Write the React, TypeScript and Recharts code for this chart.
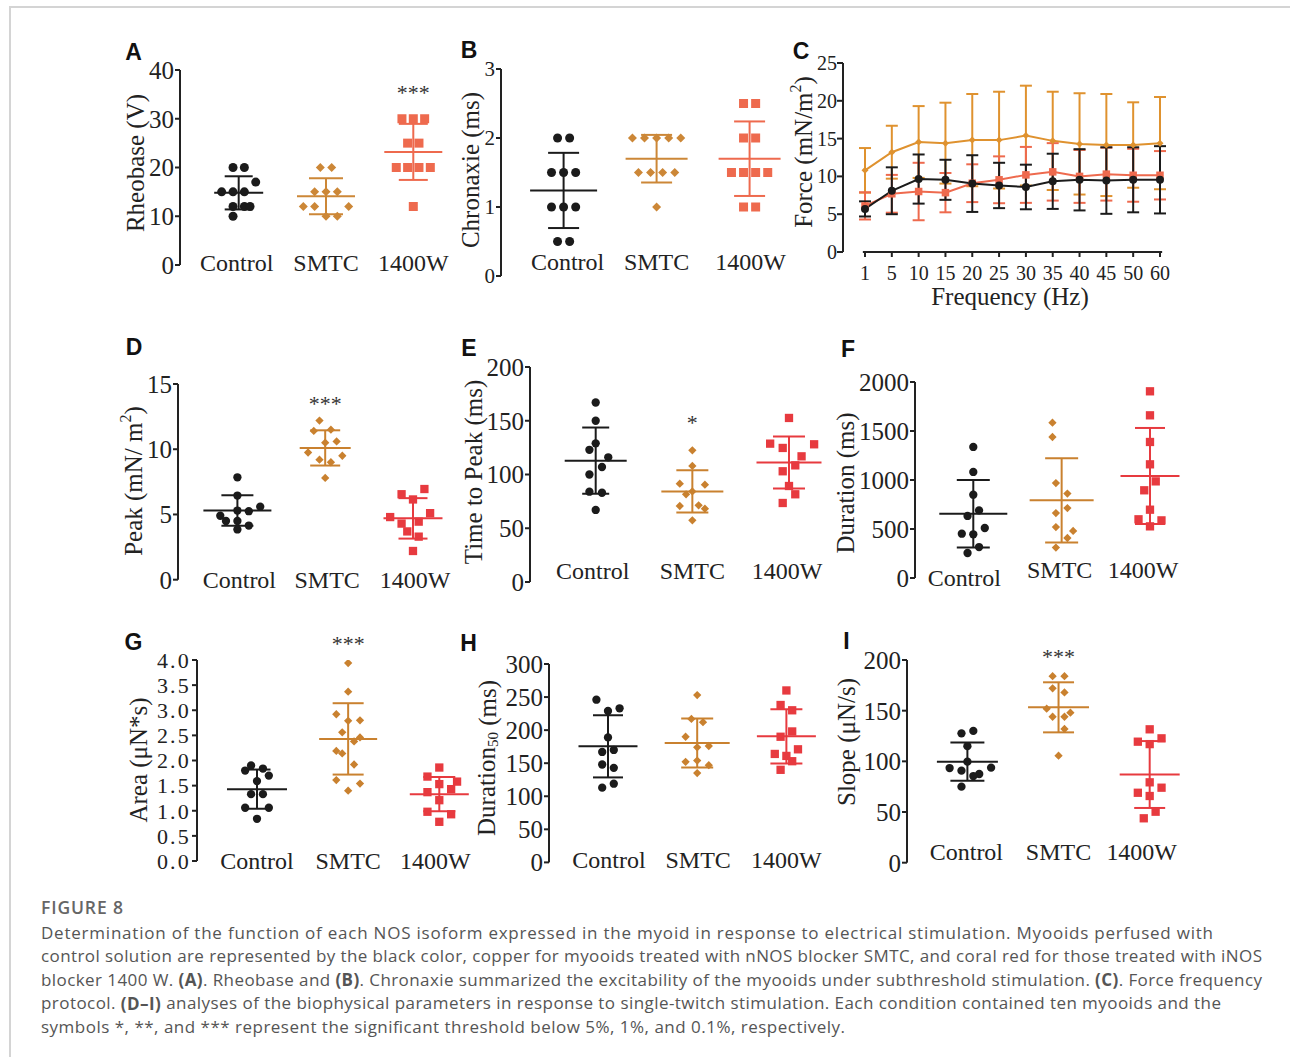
import React from 'react';
import {
  ScatterChart,
  Scatter,
  LineChart,
  Line,
  XAxis,
  YAxis,
  ErrorBar,
  ReferenceDot,
  ReferenceLine,
} from 'recharts';

const SERIF = '"Liberation Serif", "Times New Roman", serif';
const SANS = '"Liberation Sans", Arial, sans-serif';
const CAPTION = '"Open Sans", sans-serif';
const INK = '#222';
const BLACK = '#1b1b1b';
const COPPER = '#cc8737';
const CORAL = '#ee6a4e';
const RED = '#e73a3f';

const GROUPS = ['Control', 'SMTC', '1400W'];
// horizontal spread of the dots, in "slots" of this many category widths
const JITTER = 0.065;

// A: Rheobase (V)
const rheobaseValues = [
  [20, 20, 17, 15, 15, 15, 12, 12, 12, 10],
  [20, 20, 15, 15, 15, 12, 12, 12, 10, 10],
  [30, 30, 30, 25, 25, 20, 20, 20, 20, 12],
];
const rheobaseJitter = [
  [-1, 1, 3, -3, -1, 1, -1, 1, 2, -1],
  [-1, 1, -2, 0, 2, -4, -2, 4, 0, 2],
  [-2, 0, 2, -1, 1, -3, -1, 1, 3, 0],
];
const rheobaseMean = [14.8, 14.1, 23.2];
const rheobaseSd = [3.4, 3.7, 5.75];

// B: Chronaxie (ms)
const chronaxieValues = [
  [2, 2, 1.5, 1.5, 1.5, 1, 1, 1, 0.5, 0.5],
  [2, 2, 2, 2, 2, 1.5, 1.5, 1.5, 1.5, 1],
  [2.5, 2.5, 2, 2, 1.5, 1.5, 1.5, 1.5, 1, 1],
];
const chronaxieJitter = [
  [-1, 1, -2, 0, 2, -2, 0, 2, -1, 1],
  [-4, -2, 0, 2, 4, -3, -1, 1, 3, 0],
  [-1, 1, -1, 1, -3, -1, 1, 3, -1, 1],
];
const chronaxieMean = [1.24, 1.7, 1.7];
const chronaxieSd = [0.545, 0.345, 0.54];

// C: Force frequency
const freqLabels = ['1', '5', '10', '15', '20', '25', '30', '35', '40', '45', '50', '60'];
const forceControl = [5.7, 8.1, 9.65, 9.55, 9.05, 8.8, 8.6, 9.35, 9.55, 9.45, 9.55, 9.55];
const forceControlSd = [1.0, 3.1, 3.25, 2.65, 3.75, 3.0, 2.95, 3.65, 4.05, 4.4, 4.3, 4.45];
const forceSmtc = [10.8, 13.2, 14.55, 14.4, 14.8, 14.8, 15.4, 14.7, 14.3, 14.15, 14.15, 14.4];
const forceSmtcSd = [2.95, 3.5, 4.75, 5.35, 6.1, 6.4, 6.6, 6.5, 6.7, 6.75, 5.65, 6.1];
const force1400W = [6.1, 7.7, 8.0, 7.85, 9.1, 9.55, 10.2, 10.6, 10.0, 10.3, 10.15, 10.15];
const force1400WSd = [1.8, 2.5, 3.8, 2.6, 2.5, 3.1, 3.7, 3.8, 3.5, 3.5, 3.5, 3.2];

// D: Peak (mN/m2)
const peakValues = [
  [7.85, 6.45, 5.6, 5.25, 4.9, 4.5, 4.5, 3.85, 4.15, 5.3],
  [12.2, 11.4, 11.5, 10.5, 10.6, 9.75, 9.5, 9.2, 9.0, 7.8],
  [6.55, 6.95, 6.15, 4.8, 5.1, 4.3, 4.45, 3.7, 3.3, 2.2],
];
const peakJitter = [
  [0, 0, 4, 2, -3, -2, 0, 0, 2, 0],
  [-1, -2, 1, 0, 2, -3, 3, -1, 1, 0],
  [-2, 2, 0, -4, 3, -2, 1, -1, 1, 0],
];
const peakMean = [5.3, 10.1, 4.7];
const peakSd = [1.17, 1.35, 1.55];

// E: Time to peak (ms)
const ttpValues = [
  [167, 150, 129, 123, 116, 107, 100, 84, 83, 67],
  [122.5, 108, 91.5, 90.5, 84.3, 81.6, 70.7, 71.3, 68.2, 57.4],
  [152.6, 128.7, 124.7, 128.1, 116.9, 108.5, 103, 89.3, 81.6, 73.5],
];
const ttpJitter = [
  [0, 0, 0, -1, 2, 1, -1, -1, 1, 0],
  [0, 0, -2, 2, 0, -1, -2, 1, 2, 0],
  [0, -3, -1, 4, 2, 1, -1, 0, 1, -1],
];
const ttpMean = [112.9, 84.3, 111.1];
const ttpSd = [30.8, 19.6, 24.2];

// F: Duration (ms)
const durationValues = [
  [1337, 1082, 850, 633, 690, 510, 452, 446, 316, 255],
  [1585, 1439, 969, 861, 663, 714, 520, 480, 408, 310],
  [1905, 1660, 1388, 1160, 986, 895, 697, 599, 588, 527],
];
const durationJitter = [
  [0, 0, 0, -1, 1, 2, -2, 0, 1, -1],
  [-1.6, -1.6, -1, 1, -1, 1, -1, 2, 1, -1],
  [0, 0, 0, 0, 1, -1, 0, -2, 2, 0],
];
const durationMean = [656, 793, 1041];
const durationSd = [345, 430, 490];

// G: Area (uN*s)
const areaValues = [
  [1.9, 1.84, 1.8, 1.7, 1.59, 1.33, 1.33, 1.06, 1.06, 0.84],
  [3.94, 3.37, 2.92, 2.8, 2.79, 2.56, 2.46, 2.38, 2.19, 2.14, 1.92, 1.61, 1.54, 1.4],
  [1.86, 1.68, 1.58, 1.53, 1.43, 1.37, 1.21, 0.98, 0.93, 0.78],
];
const areaJitter = [
  [-1, 1, -2, 2, 0, -1, 1, -2, 2, 0],
  [0, 0, -2, 2, 0, -1, 2, 1, -2, -1, 1, -2, 2, 0],
  [0, -2, 3, 0, 2, -2, 0, -2, 2, 0],
];
const areaMean = [1.43, 2.43, 1.33];
const areaSd = [0.39, 0.71, 0.34];

// H: Duration50 (ms)
const dur50Values = [
  [246, 229, 233, 189, 167, 170, 148, 143, 119, 113],
  [253, 217, 212, 190, 174, 176, 152, 154, 147, 135],
  [260, 238, 230, 198, 190, 171, 164, 161, 153, 140],
];
const dur50Jitter = [
  [-2, 0, 2, 0, -1, 1, -1, 1, 1, -1],
  [0, -1, 1, -2, 0, 2, -2, 0, 2, 0],
  [0, -1, 1, 1, -1, 2, -2, 0, 1, -1],
];
const dur50Mean = [175.5, 180.5, 190.6];
const dur50Sd = [47, 37, 41];

// I: Slope (uN/s)
const slopeValues = [
  [127.6, 130, 115, 93.4, 90.8, 99.7, 87.5, 85.5, 93.8, 75],
  [184, 184, 172, 168, 152, 148, 144, 144, 132, 105.6],
  [131.6, 119.4, 122.7, 117, 79.3, 69, 74, 65.8, 50.3, 43.8],
];
const slopeJitter = [
  [-1, 1, 0, -3, -1, 0, 2, 1, 4, -1],
  [-1, 1, -1, 1, -2, 2, -1, 1, 1, 0],
  [0, -2, 2, 0, 0, -2, 2, 0, 1, -1],
];
const slopeMean = [99.7, 153.3, 87];
const slopeSd = [18.8, 24.7, 33];

type Shape = 'circle' | 'diamond' | 'square';
const SHAPES: Shape[] = ['circle', 'diamond', 'square'];

function marker(kind: Shape, color: string, size: number) {
  return (p: any) => {
    const { cx, cy } = p;
    if (cx == null || cy == null) return <g />;
    const h = size / 2;
    if (kind === 'circle') return <circle cx={cx} cy={cy} r={h} fill={color} />;
    if (kind === 'diamond')
      return (
        <polygon
          points={`${cx},${cy - h} ${cx + h},${cy} ${cx},${cy + h} ${cx - h},${cy}`}
          fill={color}
        />
      );
    return <rect x={cx - h} y={cy - h} width={size} height={size} fill={color} />;
  };
}

function meanBar(w: number, color: string) {
  return (p: any) => {
    const { cx, cy } = p;
    if (cx == null || cy == null) return <g />;
    return <line x1={cx - w / 2} x2={cx + w / 2} y1={cy} y2={cy} stroke={color} strokeWidth={2} />;
  };
}

interface DotPanelProps {
  axisX: number;
  yTop: number;
  yZero: number;
  centers: number[];
  max: number;
  ticks: number[];
  fmt?: (v: number) => string;
  tickFont: number;
  tickSpacing?: number;
  values: number[][];
  jitter: number[][];
  mean: number[];
  sd: number[];
  colors: string[];
  sym: number;
  meanW: number[];
  capW: number[];
  catDx: number[];
  catDy: number[];
  star?: { g: number; y: number; text: string };
}

function DotPanel(p: DotPanelProps) {
  const s = (p.centers[2] - p.centers[0]) / 2;
  const d0 = 1 - (p.centers[0] - p.axisX) / s;
  const d1 = 3.6;
  const plotW = (d1 - d0) * s;
  const YW = 110;
  const TOP = 40;
  const XH = 40;
  const plotH = p.yZero - p.yTop;

  return (
    <div style={{ position: 'absolute', left: p.axisX - YW, top: p.yTop - TOP }}>
      <ScatterChart
        width={YW + plotW}
        height={TOP + plotH + XH}
        margin={{ top: TOP, right: 0, bottom: 0, left: 0 }}
      >
        <XAxis
          type="number"
          dataKey="x"
          domain={[d0, d1]}
          ticks={[1, 2, 3]}
          interval={0}
          allowDataOverflow
          axisLine={false}
          tickLine={false}
          height={XH}
          tick={(t: any) => {
            const i = Math.round(t.payload.value) - 1;
            return (
              <text
                key={`cat${i}`}
                x={t.x + p.catDx[i]}
                y={TOP + plotH + p.catDy[i]}
                textAnchor="middle"
                dominantBaseline="central"
                fontSize={24}
                fontFamily={SERIF}
                fill={INK}
              >
                {GROUPS[i]}
              </text>
            );
          }}
        />
        <YAxis
          type="number"
          dataKey="y"
          domain={[0, p.max]}
          ticks={p.ticks}
          interval={0}
          allowDataOverflow
          width={YW}
          tickSize={5}
          tickMargin={1}
          tickFormatter={p.fmt}
          axisLine={{ stroke: INK, strokeWidth: 2 }}
          tickLine={{ stroke: INK, strokeWidth: 2 }}
          tick={{
            fontSize: p.tickFont,
            fontFamily: SERIF,
            fill: INK,
            letterSpacing: p.tickSpacing ?? 0,
          }}
        />
        {p.values.map((vals, g) => (
          <Scatter
            key={`pts${g}`}
            data={vals.map((v, k) => ({ x: g + 1 + p.jitter[g][k] * JITTER, y: v }))}
            shape={marker(SHAPES[g], p.colors[g], p.sym)}
            isAnimationActive={false}
          />
        ))}
        {p.mean.map((m, g) => (
          <Scatter
            key={`mean${g}`}
            data={[{ x: g + 1, y: m, sd: p.sd[g] }]}
            shape={meanBar(p.meanW[g], p.colors[g])}
            isAnimationActive={false}
          >
            <ErrorBar
              dataKey="sd"
              direction="y"
              width={p.capW[g] / 2}
              stroke={p.colors[g]}
              strokeWidth={2}
              isAnimationActive={false}
            />
          </Scatter>
        ))}
        {p.star && (
          <ReferenceDot
            x={p.star.g}
            y={p.star.y}
            r={1}
            fill="none"
            stroke="none"
            ifOverflow="visible"
            label={{
              value: p.star.text,
              position: 'center',
              fontSize: 22,
              fill: '#333',
              fontFamily: SERIF,
            }}
          />
        )}
      </ScatterChart>
    </div>
  );
}

function lineDot(kind: Shape, color: string, size: number) {
  const draw = marker(kind, color, size);
  return (props: any) => <g key={`d${kind}${props.index}`}>{draw(props)}</g>;
}

function ForcePanel() {
  const axisX = 843;
  const yTop = 63.3;
  const yZero = 252.3;
  const step = (1160 - 865) / 11;
  const d0 = -(865 - axisX) / step;
  const d1 = 11.7;
  const plotW = (d1 - d0) * step;
  const YW = 90;
  const TOP = 20;
  const XH = 40;
  const plotH = yZero - yTop;
  const data = freqLabels.map((f, i) => ({
    i,
    f,
    ctrl: forceControl[i],
    ctrlSd: forceControlSd[i],
    smtc: forceSmtc[i],
    smtcSd: forceSmtcSd[i],
    w: force1400W[i],
    wSd: force1400WSd[i],
  }));
  const idx = freqLabels.map((_, i) => i);

  return (
    <div style={{ position: 'absolute', left: axisX - YW, top: yTop - TOP }}>
      <LineChart
        width={YW + plotW}
        height={TOP + plotH + XH}
        data={data}
        margin={{ top: TOP, right: 0, bottom: 0, left: 0 }}
      >
        <XAxis
          type="number"
          dataKey="i"
          domain={[d0, d1]}
          ticks={idx}
          interval={0}
          allowDataOverflow
          axisLine={false}
          tickSize={5}
          tickMargin={9}
          tickLine={{ stroke: INK, strokeWidth: 2 }}
          tickFormatter={(v: number) => freqLabels[v]}
          tick={{ fontSize: 20, fontFamily: SERIF, fill: INK }}
          height={XH}
        />
        <YAxis
          type="number"
          domain={[0, 25]}
          ticks={[0, 5, 10, 15, 20, 25]}
          interval={0}
          allowDataOverflow
          width={YW}
          tickSize={6}
          tickMargin={0}
          axisLine={{ stroke: INK, strokeWidth: 2 }}
          tickLine={{ stroke: INK, strokeWidth: 2 }}
          tick={{ fontSize: 20, fontFamily: SERIF, fill: INK }}
        />
        <ReferenceLine
          segment={[
            { x: -0.08, y: 0 },
            { x: 11.08, y: 0 },
          ]}
          stroke={INK}
          strokeWidth={2}
          ifOverflow="visible"
        />
        <Line
          dataKey="smtc"
          type="linear"
          stroke="#df922f"
          strokeWidth={2}
          dot={lineDot('diamond', '#df922f', 7)}
          isAnimationActive={false}
        >
          <ErrorBar dataKey="smtcSd" direction="y" width={6} stroke="#df922f" strokeWidth={2} isAnimationActive={false} />
        </Line>
        <Line
          dataKey="w"
          type="linear"
          stroke={CORAL}
          strokeWidth={2}
          dot={lineDot('square', CORAL, 7.5)}
          isAnimationActive={false}
        >
          <ErrorBar dataKey="wSd" direction="y" width={6} stroke={CORAL} strokeWidth={2} isAnimationActive={false} />
        </Line>
        <Line
          dataKey="ctrl"
          type="linear"
          stroke={BLACK}
          strokeWidth={2}
          dot={lineDot('circle', BLACK, 8)}
          isAnimationActive={false}
        >
          <ErrorBar dataKey="ctrlSd" direction="y" width={6} stroke={BLACK} strokeWidth={2} isAnimationActive={false} />
        </Line>
      </LineChart>
    </div>
  );
}

const ABC = [BLACK, COPPER, CORAL];
const DEF = [BLACK, '#c9812f', RED];

function YLabel({ x, y, size, children }: { x: number; y: number; size: number; children: React.ReactNode }) {
  return (
    <text
      x={x}
      y={y}
      transform={`rotate(-90 ${x} ${y})`}
      textAnchor="middle"
      dominantBaseline="central"
      fontSize={size}
      fontFamily={SERIF}
      fill={INK}
    >
      {children}
    </text>
  );
}

const letters = [
  { t: 'A', x: 133.5, y: 51.5 },
  { t: 'B', x: 469, y: 50 },
  { t: 'C', x: 801, y: 51 },
  { t: 'D', x: 134, y: 347 },
  { t: 'E', x: 469, y: 348 },
  { t: 'F', x: 848, y: 349 },
  { t: 'G', x: 133.5, y: 641.5 },
  { t: 'H', x: 468.5, y: 643 },
  { t: 'I', x: 846.5, y: 640.5 },
];

// caption lines and the width each one takes in the figure
const captionLines: React.ReactNode[] = [
  'Determination of the function of each NOS isoform expressed in the myoid in response to electrical stimulation. Myooids perfused with',
  'control solution are represented by the black color, copper for myooids treated with nNOS blocker SMTC, and coral red for those treated with iNOS',
  <>
    blocker 1400 W. <tspan fontWeight={700}>(A)</tspan>. Rheobase and <tspan fontWeight={700}>(B)</tspan>. Chronaxie
    summarized the excitability of the myooids under subthreshold stimulation. <tspan fontWeight={700}>(C)</tspan>. Force
    frequency
  </>,
  <>
    protocol. <tspan fontWeight={700}>(D–I)</tspan> analyses of the biophysical parameters in response to single-twitch
    stimulation. Each condition contained ten myooids and the
  </>,
  'symbols *, **, and *** represent the significant threshold below 5%, 1%, and 0.1%, respectively.',
];
const captionWidths = [1172, 1221, 1221, 1180, 804];

export default function App() {
  return (
    <div
      style={{
        position: 'absolute',
        left: 0,
        top: 0,
        width: 1290,
        height: 1057,
        background: '#fff',
        overflow: 'hidden',
      }}
    >
      <div
        style={{
          position: 'absolute',
          left: 9,
          top: 6,
          width: 1300,
          height: 1100,
          borderTop: '2px solid #d4d4d4',
          borderLeft: '2px solid #d4d4d4',
        }}
      />

      <DotPanel
        axisX={180}
        yTop={70}
        yZero={265}
        centers={[238.7, 326, 413.3]}
        max={40}
        ticks={[0, 10, 20, 30, 40]}
        tickFont={25}
        values={rheobaseValues}
        jitter={rheobaseJitter}
        mean={rheobaseMean}
        sd={rheobaseSd}
        colors={ABC}
        sym={9}
        meanW={[49, 58, 58]}
        capW={[28, 34, 29]}
        catDx={[-2, 0, 0]}
        catDy={[-2, -2, -2]}
        star={{ g: 3, y: 35.4, text: '***' }}
      />
      <DotPanel
        axisX={500.7}
        yTop={69}
        yZero={276}
        centers={[563.3, 656.7, 749.3]}
        max={3}
        ticks={[0, 1, 2, 3]}
        tickFont={21}
        values={chronaxieValues}
        jitter={chronaxieJitter}
        mean={chronaxieMean}
        sd={chronaxieSd}
        colors={ABC}
        sym={9}
        meanW={[67, 62, 62]}
        capW={[31, 31, 31]}
        catDx={[4, 0, 1]}
        catDy={[-14, -14, -14]}
      />
      <ForcePanel />
      <DotPanel
        axisX={178.3}
        yTop={384.3}
        yZero={580}
        centers={[237.7, 325, 413.3]}
        max={15}
        ticks={[0, 5, 10, 15]}
        tickFont={25}
        values={peakValues}
        jitter={peakJitter}
        mean={peakMean}
        sd={peakSd}
        colors={DEF}
        sym={8.3}
        meanW={[68, 51, 59]}
        capW={[32, 30, 29]}
        catDx={[2, 2, 2]}
        catDy={[0, 0, 0]}
        star={{ g: 2, y: 13.5, text: '***' }}
      />
      <DotPanel
        axisX={530}
        yTop={366.7}
        yZero={581.7}
        centers={[595.7, 692.3, 789]}
        max={200}
        ticks={[0, 50, 100, 150, 200]}
        tickFont={25}
        values={ttpValues}
        jitter={ttpJitter}
        mean={ttpMean}
        sd={ttpSd}
        colors={DEF}
        sym={8.3}
        meanW={[62, 62, 65]}
        capW={[27, 32, 32]}
        catDx={[-3, 0, -2]}
        catDy={[-10.5, -10.5, -10.5]}
        star={{ g: 2, y: 149, text: '*' }}
      />
      <DotPanel
        axisX={915}
        yTop={381.7}
        yZero={577.7}
        centers={[973.3, 1061.7, 1150]}
        max={2000}
        ticks={[0, 500, 1000, 1500, 2000]}
        tickFont={25}
        values={durationValues}
        jitter={durationJitter}
        mean={durationMean}
        sd={durationSd}
        colors={DEF}
        sym={8.3}
        meanW={[68, 64, 59]}
        capW={[33, 33, 30]}
        catDx={[-9, -2, -7]}
        catDy={[0, -8, -8]}
      />
      <DotPanel
        axisX={196.7}
        yTop={660}
        yZero={861}
        centers={[256.7, 347.7, 439]}
        max={4}
        ticks={[0, 0.5, 1, 1.5, 2, 2.5, 3, 3.5, 4]}
        fmt={(v: number) => v.toFixed(1)}
        tickFont={22}
        tickSpacing={2.2}
        values={areaValues}
        jitter={areaJitter}
        mean={areaMean}
        sd={areaSd}
        colors={DEF}
        sym={8.3}
        meanW={[60, 58, 59]}
        capW={[27, 31, 32]}
        catDx={[0, 0, -4]}
        catDy={[0, 0, 0]}
        star={{ g: 2, y: 4.33, text: '***' }}
      />
      <DotPanel
        axisX={549.3}
        yTop={664.3}
        yZero={862.7}
        centers={[608.3, 697.3, 786.7]}
        max={300}
        ticks={[0, 50, 100, 150, 200, 250, 300]}
        tickFont={25}
        values={dur50Values}
        jitter={dur50Jitter}
        mean={dur50Mean}
        sd={dur50Sd}
        colors={DEF}
        sym={8.3}
        meanW={[59, 65, 59]}
        capW={[30, 32, 32]}
        catDx={[1, 1, 0]}
        catDy={[-2.7, -2.7, -2.7]}
      />
      <DotPanel
        axisX={907.3}
        yTop={660}
        yZero={862.7}
        centers={[967.7, 1058.3, 1150]}
        max={200}
        ticks={[0, 50, 100, 150, 200]}
        tickFont={25}
        values={slopeValues}
        jitter={slopeJitter}
        mean={slopeMean}
        sd={slopeSd}
        colors={DEF}
        sym={8.3}
        meanW={[61, 61, 60]}
        capW={[34, 31, 31]}
        catDx={[-1, 0, -8]}
        catDy={[-11, -11, -11]}
        star={{ g: 2, y: 203.5, text: '***' }}
      />

      <svg
        width={1290}
        height={1057}
        style={{ position: 'absolute', left: 0, top: 0, pointerEvents: 'none' }}
      >
        {letters.map((l) => (
          <text
            key={l.t}
            x={l.x}
            y={l.y}
            textAnchor="middle"
            dominantBaseline="central"
            fontSize={23}
            fontWeight="bold"
            fontFamily={SANS}
            fill="#111"
          >
            {l.t}
          </text>
        ))}
        <YLabel x={135} y={163} size={25}>Rheobase (V)</YLabel>
        <YLabel x={470.5} y={170} size={25}>Chronaxie (ms)</YLabel>
        <YLabel x={803} y={152} size={25}>
          Force (mN/m<tspan dy={-8} fontSize={16}>2</tspan>
          <tspan dy={8}>)</tspan>
        </YLabel>
        <YLabel x={133.3} y={481} size={25}>
          Peak (mN/ m<tspan dy={-8} fontSize={16}>2</tspan>
          <tspan dy={8}>)</tspan>
        </YLabel>
        <YLabel x={473.3} y={472} size={25}>Time to Peak (ms)</YLabel>
        <YLabel x={845} y={483} size={25}>Duration (ms)</YLabel>
        <YLabel x={138.3} y={760} size={25}>Area (μN*s)</YLabel>
        <YLabel x={486.7} y={758} size={25}>
          Duration<tspan dy={6} fontSize={15}>50</tspan>
          <tspan dy={-6}> (ms)</tspan>
        </YLabel>
        <YLabel x={846.7} y={742} size={25}>Slope (μN/s)</YLabel>
        <text
          x={1010}
          y={296.7}
          textAnchor="middle"
          dominantBaseline="central"
          fontSize={25}
          fontFamily={SERIF}
          fill={INK}
        >
          Frequency (Hz)
        </text>

        <text
          x={41}
          y={907}
          dominantBaseline="central"
          fontSize={17.5}
          fontWeight={600}
          fontFamily={CAPTION}
          fill="#666"
          textLength={82}
          lengthAdjust="spacing"
        >
          FIGURE 8
        </text>
        {captionLines.map((line, k) => (
          <text
            key={k}
            x={41}
            y={932 + k * 23.6}
            dominantBaseline="central"
            fontSize={17}
            fontFamily={CAPTION}
            fill="#555"
            textLength={captionWidths[k]}
            lengthAdjust="spacing"
          >
            {line}
          </text>
        ))}
      </svg>
    </div>
  );
}
